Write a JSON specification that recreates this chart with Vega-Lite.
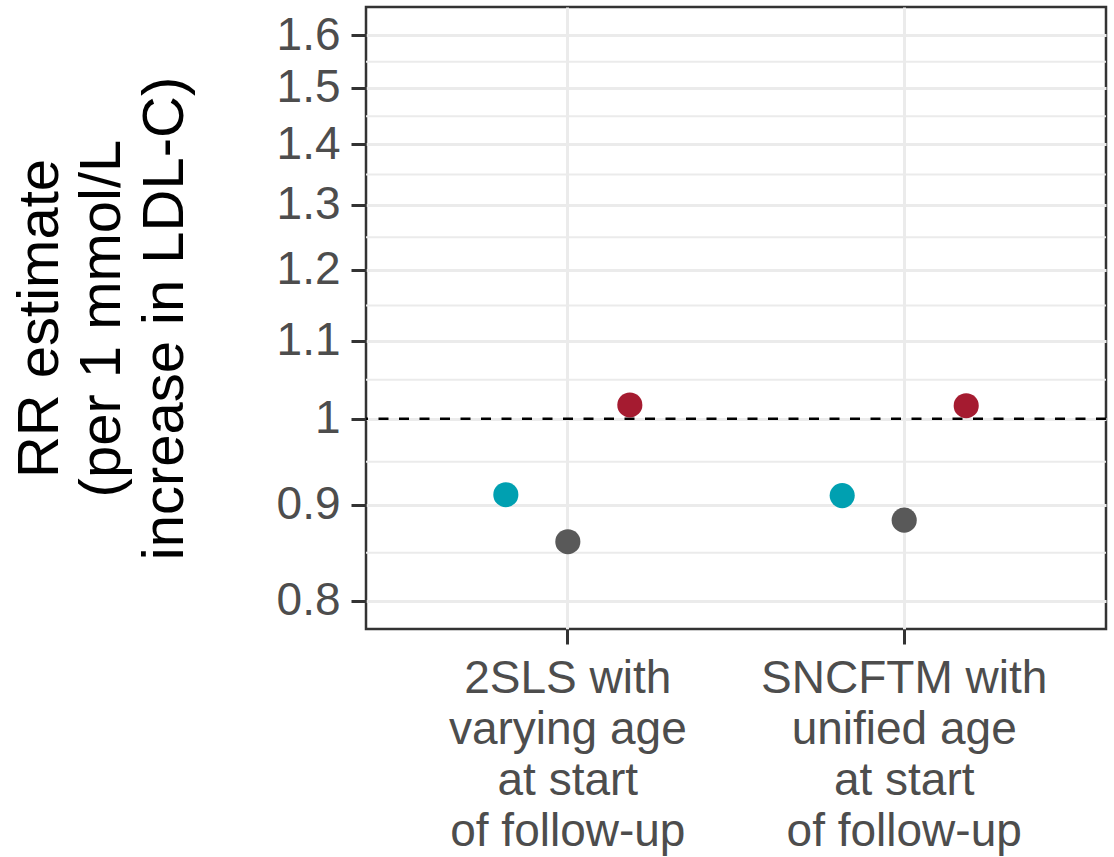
{
  "$schema": "https://vega.github.io/schema/vega-lite/v6.json",
  "width": 740,
  "height": 622,
  "autosize": {"type": "none"},
  "padding": {"left": 366, "top": 7, "right": 8, "bottom": 228},
  "background": "white",
  "config": {
    "font": "Liberation Sans",
    "view": {"stroke": "#333333", "strokeWidth": 2.5}
  },
  "datasets": {
    "points": [
      {"method": "2SLS with\nvarying age\nat start\nof follow-up", "grp": "A", "rr": 0.911},
      {"method": "2SLS with\nvarying age\nat start\nof follow-up", "grp": "B", "rr": 0.860},
      {"method": "2SLS with\nvarying age\nat start\nof follow-up", "grp": "C", "rr": 1.017},
      {"method": "SNCFTM with\nunified age\nat start\nof follow-up", "grp": "A", "rr": 0.910},
      {"method": "SNCFTM with\nunified age\nat start\nof follow-up", "grp": "B", "rr": 0.883},
      {"method": "SNCFTM with\nunified age\nat start\nof follow-up", "grp": "C", "rr": 1.016}
    ],
    "minor": [
      {"rr": 0.8485}, {"rr": 0.9487}, {"rr": 1.0488}, {"rr": 1.1489},
      {"rr": 1.2490}, {"rr": 1.3491}, {"rr": 1.4491}, {"rr": 1.5492}
    ],
    "ref": [{"rr": 1}]
  },
  "encoding": {
    "y": {
      "field": "rr",
      "type": "quantitative",
      "scale": {"type": "log", "domain": [0.7727, 1.6566], "nice": false},
      "axis": {
        "values": [0.8, 0.9, 1, 1.1, 1.2, 1.3, 1.4, 1.5, 1.6],
        "format": ".1~f",
        "title": ["RR estimate", "(per 1 mmol/L", "increase in LDL-C)"],
        "titleFont": "Liberation Sans",
        "titleFontSize": 58,
        "titleFontWeight": "normal",
        "titleColor": "black",
        "titleLineHeight": 62.5,
        "titleAngle": 270,
        "titleX": -309,
        "titleY": 311,
        "titleAlign": "center",
        "titleBaseline": "alphabetic",
        "labelFontSize": 46,
        "labelColor": "#4D4D4D",
        "labelPadding": 11,
        "tickSize": 15,
        "tickWidth": 3,
        "tickColor": "#333333",
        "grid": true,
        "gridColor": "#EBEBEB",
        "gridWidth": 3,
        "domain": false
      }
    }
  },
  "layer": [
    {
      "data": {"name": "minor"},
      "mark": {"type": "rule", "stroke": "#EBEBEB", "strokeWidth": 2},
      "encoding": {}
    },
    {
      "data": {"name": "ref"},
      "mark": {"type": "rule", "stroke": "black", "strokeWidth": 2.4, "strokeDash": [10, 10.5]},
      "encoding": {}
    },
    {
      "data": {"name": "points"},
      "mark": {"type": "circle", "size": 630, "opacity": 1},
      "encoding": {
        "x": {
          "field": "method",
          "type": "nominal",
          "scale": {"type": "band", "paddingInner": 0, "paddingOuter": 0.1},
          "axis": {
            "title": null,
            "labelExpr": "split(datum.label, '\\n')",
            "labelAngle": 0,
            "labelFontSize": 46,
            "labelLineHeight": 51,
            "labelColor": "#4D4D4D",
            "labelPadding": 12,
            "labelBaseline": "top",
            "labelLimit": 0,
            "tickSize": 15,
            "tickWidth": 3,
            "tickColor": "#333333",
            "grid": true,
            "gridColor": "#EBEBEB",
            "gridWidth": 3,
            "bandPosition": 0.5,
            "domain": false
          }
        },
        "xOffset": {
          "field": "grp",
          "type": "nominal",
          "sort": ["A", "B", "C"],
          "scale": {"type": "point", "padding": 0, "range": [106.2, 230.2]}
        },
        "color": {
          "field": "grp",
          "type": "nominal",
          "scale": {"domain": ["A", "B", "C"], "range": ["#00A0B1", "#595959", "#A51B30"]},
          "legend": null
        }
      }
    }
  ]
}
